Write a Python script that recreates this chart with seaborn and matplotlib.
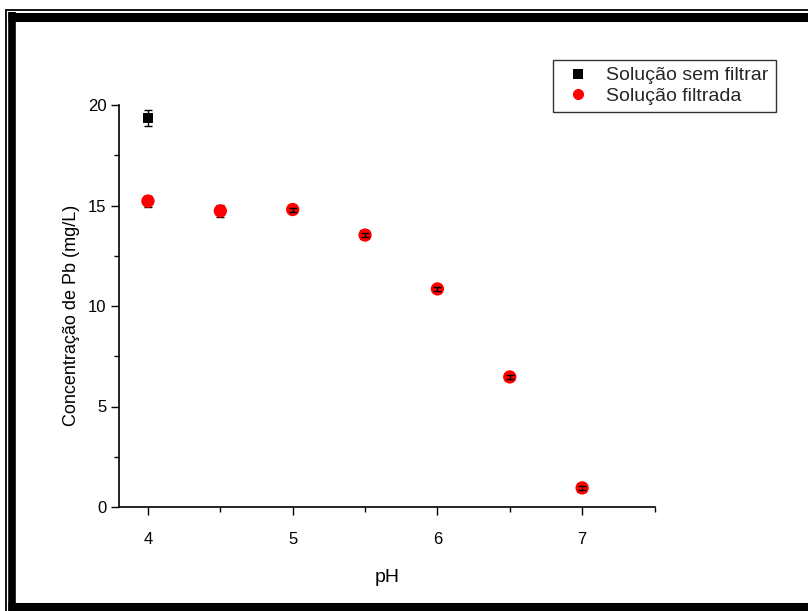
import matplotlib
matplotlib.use("Agg")
import matplotlib.pyplot as plt
import seaborn as sns
import pandas as pd
from matplotlib.lines import Line2D
from matplotlib.ticker import MultipleLocator

# ---- data ----
ph = [4.0, 4.5, 5.0, 5.5, 6.0, 6.5, 7.0]
sem_filtrar = [19.35, 14.73, 14.80, 13.53, 10.85, 6.47, 0.95]
sem_filtrar_err = [0.40, 0.10, 0.10, 0.08, 0.10, 0.10, 0.10]
filtrada = [15.22, 14.73, 14.80, 13.53, 10.85, 6.47, 0.95]
filtrada_err = [0.27, 0.28, 0.10, 0.08, 0.10, 0.10, 0.10]
labels = ["Solução sem filtrar", "Solução filtrada"]
x_label = "pH"
y_label = "Concentração de Pb (mg/L)"

sns.set_theme(style="white")
plt.rcParams["font.family"] = ["Liberation Sans", "DejaVu Sans"]

W, H = 808, 611
fig = plt.figure(figsize=(W / 100, H / 100), dpi=100)
ax = fig.add_axes([119 / W, 1 - 507 / H, (654.5 - 119) / W, (507 - 105) / H])

df = pd.DataFrame({
    "pH": ph * 2,
    "conc": sem_filtrar + filtrada,
    "serie": [labels[0]] * len(ph) + [labels[1]] * len(ph),
})

ax.errorbar(ph, sem_filtrar, yerr=sem_filtrar_err, fmt="none", ecolor="black",
            elinewidth=1.0, capsize=3, capthick=1.0, zorder=2)
ax.errorbar(ph, filtrada, yerr=filtrada_err, fmt="none", ecolor="black",
            elinewidth=1.0, capsize=3, capthick=1.0, zorder=2)

sns.scatterplot(data=df, x="pH", y="conc", hue="serie", style="serie",
                palette={labels[0]: "black", labels[1]: "red"},
                markers={labels[0]: "s", labels[1]: "o"},
                size="serie", sizes={labels[0]: 46, labels[1]: 92},
                edgecolor="none", linewidth=0, ax=ax, zorder=3,
                legend=True)

ax.errorbar(ph[2:], filtrada[2:], yerr=filtrada_err[2:], fmt="none", ecolor="black",
            elinewidth=1.0, capsize=3, capthick=1.0, zorder=4)

ax.set_xlim(3.8, 7.5)
ax.set_ylim(0, 20)
ax.xaxis.set_major_locator(MultipleLocator(1))
ax.xaxis.set_minor_locator(MultipleLocator(0.5))
ax.yaxis.set_major_locator(MultipleLocator(5))
ax.yaxis.set_minor_locator(MultipleLocator(2.5))
ax.tick_params(axis="both", which="major", direction="out", length=6, width=1,
               color="black", labelsize=12, labelcolor="black", pad=3,
               bottom=True, left=True)
ax.tick_params(axis="both", which="minor", direction="out", length=3.5, width=1,
               color="black", bottom=True, left=True)
ax.xaxis.set_tick_params(pad=12)
sns.despine(ax=ax)
for side in ["left", "bottom"]:
    ax.spines[side].set_color("black")
    ax.spines[side].set_linewidth(1.2)
ax.set_xlabel(x_label, fontsize=14, color="black", labelpad=16)
ax.set_ylabel(y_label, fontsize=13, color="black")
ax.yaxis.set_label_coords(-0.072, (507 - 315) / (507 - 105))
ax.grid(False)

handles, _ = ax.get_legend_handles_labels()
leg = ax.legend(handles=handles, labels=labels, loc="upper left",
                bbox_to_anchor=((553 - 119) / (654.5 - 119), 1 + (105 - 60) / (507 - 105)),
                frameon=True, fancybox=False, fontsize=14, borderpad=0.35,
                handletextpad=0.5, labelspacing=0.15, handlelength=1.9,
                borderaxespad=0)
leg.get_frame().set_edgecolor("black")
leg.get_frame().set_linewidth(1.0)
for h, s in zip(leg.legend_handles, [6.5, 8.0]):
    try:
        h.set_markersize(s)
    except Exception:
        pass

def fx(px):
    return px / W
def fy(py):
    return 1 - py / H

fig.add_artist(Line2D([fx(5.5), fx(5.5)], [fy(9.5), fy(611)], color="black", lw=1.3))
fig.add_artist(Line2D([fx(5.5), fx(808)], [fy(9.5), fy(9.5)], color="black", lw=1.3))
fig.add_artist(Line2D([fx(11.5), fx(11.5)], [fy(12), fy(611)], color="black", lw=5.5, solid_capstyle="butt"))
fig.add_artist(Line2D([fx(8), fx(808)], [fy(16.5), fy(16.5)], color="black", lw=6.5, solid_capstyle="butt"))
fig.add_artist(Line2D([fx(8), fx(808)], [fy(607), fy(607)], color="black", lw=6.5, solid_capstyle="butt"))

fig.savefig("out.png", dpi=100)
